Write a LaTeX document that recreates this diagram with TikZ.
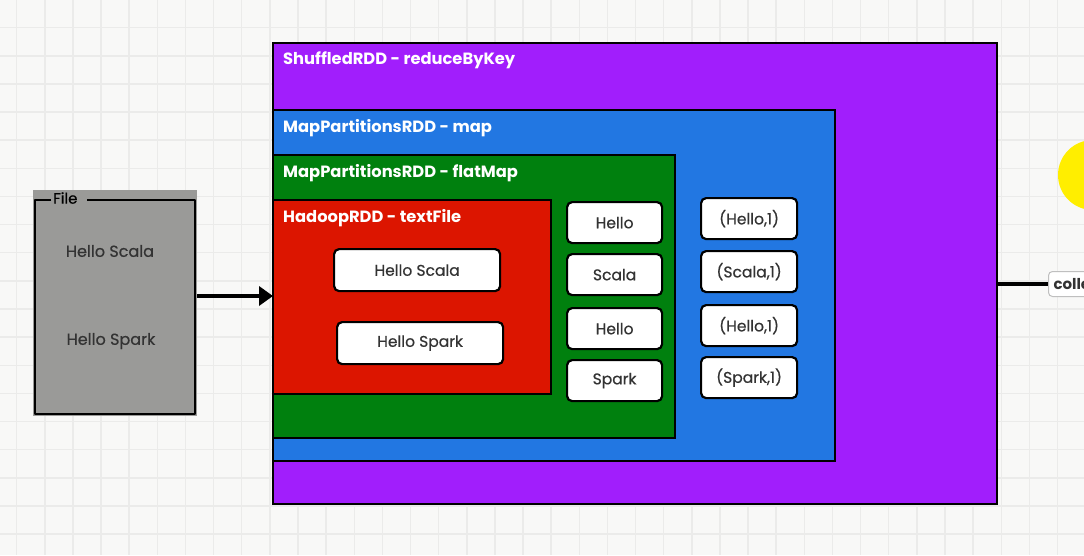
\documentclass[tikz,border=0pt]{standalone}
\usepackage{fontspec}
\setmainfont{Poppins}
\newfontfamily\medfont[FakeBold=0.5]{Poppins}
\usetikzlibrary{arrows.meta}
\definecolor{bgc}{HTML}{F8F8F7}
\definecolor{gridc}{HTML}{EBEBEA}
\definecolor{purp}{HTML}{A11EFC}
\definecolor{blu}{HTML}{2277E2}
\definecolor{grn}{HTML}{00800E}
\definecolor{rd}{HTML}{DC1500}
\definecolor{filegray}{HTML}{9A9A98}
\definecolor{txt}{HTML}{333333}
\definecolor{yel}{HTML}{FFEE00}
\tikzset{
  rdd/.style={draw=black, line width=2.4pt, rectangle, anchor=north west, inner sep=0pt, outer sep=0pt},
  rddlabel/.style={text=white, font=\fontsize{16.3}{18}\selectfont\bfseries, anchor=west, inner sep=0pt},
  word/.style={draw=black, line width=2.2pt, fill=white, rounded corners=5pt, inner sep=0pt, anchor=north west, text=txt, font=\medfont\fontsize{15.5}{17}\selectfont},
  filetext/.style={text=txt, font=\medfont\fontsize{16}{18}\selectfont, inner sep=0pt},
  thickarrow/.style={line width=4pt, -{Triangle[length=14pt,width=19pt]}},
  thickline/.style={line width=4pt},
}
\begin{document}
\begin{tikzpicture}[x=1pt,y=-1pt]
\useasboundingbox (0,0) rectangle (1084,555);
\clip (0,0) rectangle (1084,555);
\fill[bgc] (0,0) rectangle (1084,555);
\foreach \i in {0,...,38} {
  \draw[gridc, line width=1.5pt] ({16.7+28.13*\i},0) -- ({16.7+28.13*\i},555);
}
\foreach \j in {-1,...,19} {
  \draw[gridc, line width=1.5pt] (0,{27.7+28.13*\j}) -- (1084,{27.7+28.13*\j});
}
% yellow highlight
\fill[yel] (1093,175) circle (35);
% file box
\node[fill=filegray, anchor=north west, minimum width=164pt, minimum height=226pt, inner sep=0pt, outer sep=0pt] (file) at (33,190) {};
\coordinate (fa) at (51,200);
\coordinate (fb) at (87,200);
\draw[line width=2.4pt, line join=round] (fa) -- (35,200) -- (35,414) -- (195,414) -- (195,200) -- (fb);
\node[text=black, font=\medfont\fontsize{15}{17}\selectfont, inner sep=0pt, anchor=west] (filelbl) at (53,198) {File};
\node[filetext] (fs1) at (110,251) {Hello Scala};
\node[filetext] (fs2) at (111,341) {Hello Spark};
% RDD boxes
\node[rdd, fill=purp, minimum width=724pt, minimum height=461pt] (shuf) at (273,43) {};
\node[rddlabel] (shuflbl) at (283,60) {ShuffledRDD - reduceByKey};
\node[rdd, fill=blu, minimum width=562pt, minimum height=351pt] (map) at (273,110) {};
\node[rddlabel] (maplbl) at (283,128) {MapPartitionsRDD - map};
\node[rdd, fill=grn, minimum width=402pt, minimum height=283pt] (flat) at (273,155) {};
\node[rddlabel] (flatlbl) at (283,173) {MapPartitionsRDD - flatMap};
\node[rdd, fill=rd, minimum width=278pt, minimum height=194pt] (hadoop) at (273,200) {};
\node[rddlabel] (hadooplbl) at (283,218) {HadoopRDD - textFile};
% lines in hadoop
\node[word, minimum width=166pt, minimum height=42pt] (l1) at (333,248) {Hello Scala};
\node[word, minimum width=166pt, minimum height=42pt] (l2) at (336,321) {Hello Spark};
% words
\node[word, minimum width=95pt, minimum height=41pt] (w1) at (566,201) {Hello};
\node[word, minimum width=95pt, minimum height=41pt] (w2) at (566,253) {Scala};
\node[word, minimum width=95pt, minimum height=41pt] (w3) at (566,307) {Hello};
\node[word, minimum width=95pt, minimum height=41pt] (w4) at (566,359) {Spark};
% tuples
\node[word, minimum width=96pt, minimum height=41pt] (t1) at (700,197) {(Hello,1)};
\node[word, minimum width=96pt, minimum height=41pt] (t2) at (700,250) {(Scala,1)};
\node[word, minimum width=96pt, minimum height=41pt] (t3) at (700,304) {(Hello,1)};
\node[word, minimum width=96pt, minimum height=41pt] (t4) at (700,356) {(Spark,1)};
% arrow file -> hadoop
\draw[thickarrow] (file.east |- 0,296) -- (hadoop.west |- 0,296);
% collect
\node[draw=black!25, line width=1pt, fill=white, rounded corners=4pt, anchor=west, minimum height=25pt, inner xsep=5pt, text=txt, font=\fontsize{15}{17}\selectfont\bfseries] (collect) at (1048,284) {collect};
\draw[thickline] (shuf.east |- 0,284) -- (collect.west);
\end{tikzpicture}
\end{document}
